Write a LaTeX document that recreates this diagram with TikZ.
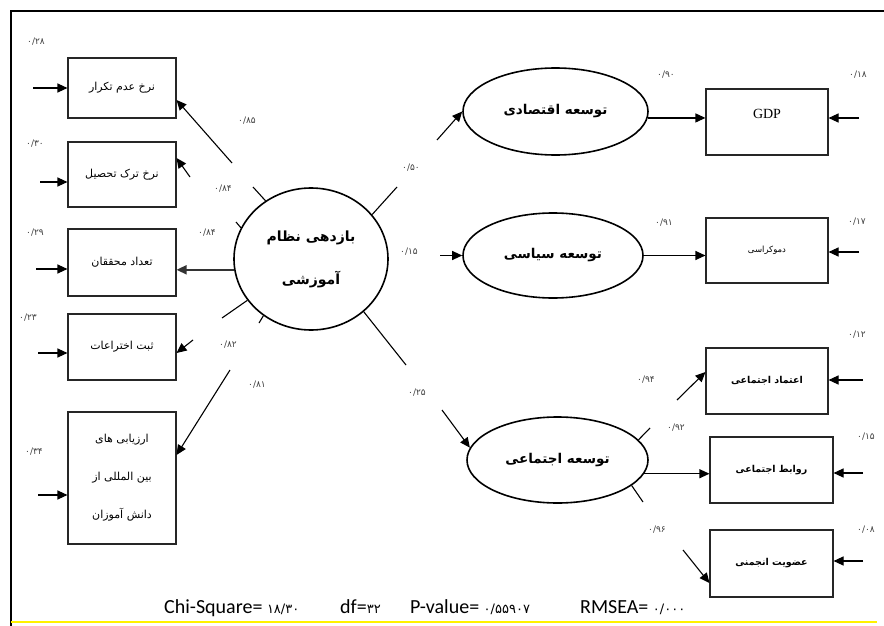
\documentclass[tikz,border=0pt]{standalone}
\usepackage{fontspec}
\setmainfont{Liberation Serif}
\newfontfamily\fa[Script=Arabic]{DejaVu Sans}
\newfontfamily\calfont{Carlito}
\TeXXeTstate=1
\usetikzlibrary{arrows.meta,shapes.geometric}
\begin{document}
\begin{tikzpicture}[x=1pt,y=-1pt,
  obs/.style={draw=black!85,line width=1.1pt,inner sep=1pt,align=center,font=\fa\fontsize{11}{13}\selectfont},
  obsr/.style={obs,font=\fa\fontsize{8.5}{10}\selectfont},
  obsb/.style={obs,font=\fa\bfseries\fontsize{9.5}{11}\selectfont},
  lat/.style={draw,ellipse,line width=1.6pt,inner sep=0pt,align=center,font=\fa\bfseries\fontsize{13.5}{15}\selectfont},
  conn/.style={line width=1.1pt},
  arr/.style={conn,-{Triangle[length=10pt,width=9pt]}},
  lab/.style={inner sep=0pt,text=black!75,font=\fa\fontsize{9}{10}\selectfont},
  bt/.style={inner sep=0pt,anchor=base west,font=\calfont\fontsize{20}{22}\selectfont},
  btd/.style={font=\fa\fontsize{14}{16}\selectfont}]
\useasboundingbox (0,0) rectangle (884,626);
% frame
\draw[line width=2pt] (884,11) -- (11,11) -- (11,626);
\draw[yellow,line width=1.5pt] (11,622) -- (877,622);

% observed indicators (left)
\node[obs,minimum width=108pt,minimum height=60pt] (b1) at (122,88) {\beginR نرخ عدم تکرار\endR};
\node[obs,minimum width=108pt,minimum height=65pt] (b2) at (122,174.5) {\beginR نرخ ترک تحصیل\endR};
\node[obs,minimum width=108pt,minimum height=67pt] (b3) at (122,262.5) {\beginR تعداد محققان\endR};
\node[obs,minimum width=108pt,minimum height=66pt] (b4) at (122,347) {\beginR ثبت اختراعات\endR};
\node[obs,minimum width=108pt,minimum height=132pt,font=\fa\fontsize{11}{38}\selectfont] (b5) at (122,478)
  {\beginR ارزیابی های\endR\\\beginR بین المللی از\endR\\\beginR دانش آموزان\endR};

% latent variables
\node[lat,minimum width=154pt,minimum height=142pt,font=\fa\bfseries\fontsize{14}{43}\selectfont] (cen) at (311,259)
  {\beginR بازدهی نظام\endR\\\beginR آموزشی\endR};
\node[lat,minimum width=185pt,minimum height=87pt] (eco) at (555.5,111.5) {\beginR توسعه اقتصادی\endR};
\node[lat,minimum width=180pt,minimum height=85pt] (pol) at (553,255.5) {\beginR توسعه سیاسی\endR};
\node[lat,minimum width=181pt,minimum height=86pt] (soc) at (557.5,460) {\beginR توسعه اجتماعی\endR};

% observed indicators (right)
\node[obs,minimum width=122pt,minimum height=66pt,font=\fontsize{14}{16}\selectfont,text height=10pt,text depth=18pt] (gdp) at (767,122) {GDP};
\node[obsr,minimum width=122pt,minimum height=65pt] (dem) at (767,250.5) {\beginR دموکراسی\endR};
\node[obsb,minimum width=122pt,minimum height=66pt] (trust) at (767,381) {\beginR اعتماد اجتماعی\endR};
\node[obsb,minimum width=123pt,minimum height=66pt] (rel) at (771.5,470) {\beginR روابط اجتماعی\endR};
\node[obsb,minimum width=123pt,minimum height=67pt] (mem) at (771.5,563.5) {\beginR عضویت انجمنی\endR};

% loadings, left
\coordinate (ga1) at (253,187); \coordinate (ga2) at (232,163);
\draw[conn] (cen.128) -- (ga1);
\draw[arr] (ga2) -- ([yshift=-12pt]b1.east);
\coordinate (gb1) at (236,222); \coordinate (gb2) at (190,177);
\draw[conn] (cen.156) -- (gb1);
\draw[arr] (gb2) -- ([yshift=16.5pt]b2.east);
\draw[arr,line width=1.8pt,draw=black!80] (cen.188) -- (cen.188 -| b3.east);
\coordinate (gd1) at (222,318); \coordinate (gd2) at (193,340);
\draw[conn] (cen.213) -- (gd1);
\draw[arr] (gd2) -- ([yshift=-6pt]b4.east);
\coordinate (ge1) at (259,323); \coordinate (ge2) at (230,370);
\draw[conn] (cen.230) -- (ge1);
\draw[arr] (ge2) -- ([yshift=23pt]b5.east);

% structural paths
\coordinate (gf1) at (397,187); \coordinate (gf2) at (437,140);
\draw[conn] (cen.36) -- (gf1);
\draw[arr] (gf2) -- (eco.west);
\coordinate (gg) at (440,255.5);
\draw[arr] (gg) -- (pol.west);
\coordinate (gh1) at (406,365); \coordinate (gh2) at (442,410);
\draw[conn] (cen.-45) -- (gh1);
\draw[arr] (gh2) -- (soc.172);

% loadings, right
\draw[arr] (eco.-4) -- (eco.-4 -| gdp.west);
\draw[arr] (pol.east) -- (pol.east -| dem.west);
\coordinate (gi1) at (650,428); \coordinate (gi2) at (677,400);
\draw[conn] (soc.14) -- (gi1);
\draw[arr] (gi2) -- ([yshift=9pt]trust.west);
\draw[arr] (soc.-9) -- (soc.-9 -| rel.west);
\coordinate (gj1) at (643,502); \coordinate (gj2) at (683,550);
\draw[conn] (soc.-19) -- (gj1);
\draw[arr] (gj2) -- ([yshift=-19.5pt]mem.west);

% error arrows
\coordinate (eL1) at (33,88);  \draw[arr] (eL1) -- (eL1 -| b1.west);
\coordinate (eL2) at (40,182); \draw[arr] (eL2) -- (eL2 -| b2.west);
\coordinate (eL3) at (36,269); \draw[arr] (eL3) -- (eL3 -| b3.west);
\coordinate (eL4) at (38,353); \draw[arr] (eL4) -- (eL4 -| b4.west);
\coordinate (eL5) at (38,495); \draw[arr] (eL5) -- (eL5 -| b5.west);
\coordinate (eR1) at (859,118); \draw[arr] (eR1) -- (eR1 -| gdp.east);
\coordinate (eR2) at (859,252); \draw[arr] (eR2) -- (eR2 -| dem.east);
\coordinate (eR3) at (863,380); \draw[arr] (eR3) -- (eR3 -| trust.east);
\coordinate (eR4) at (863,473); \draw[arr] (eR4) -- (eR4 -| rel.east);
\coordinate (eR5) at (863,561); \draw[arr] (eR5) -- (eR5 -| mem.east);

% numeric labels
\node[lab] (l1) at (36,42) {۰/۲۸};
\node[lab] (l2) at (35,144) {۰/۳۰};
\node[lab] (l3) at (35,233) {۰/۲۹};
\node[lab] (l4) at (28,318) {۰/۲۳};
\node[lab] (l5) at (34,452) {۰/۳۴};
\node[lab] (l6) at (247,121) {۰/۸۵};
\node[lab] (l7) at (223,189) {۰/۸۴};
\node[lab] (l8) at (207,233) {۰/۸۴};
\node[lab] (l9) at (228,345) {۰/۸۲};
\node[lab] (l10) at (257,385) {۰/۸۱};
\node[lab] (l11) at (411,168) {۰/۵۰};
\node[lab] (l12) at (409,252) {۰/۱۵};
\node[lab] (l13) at (417,393) {۰/۲۵};
\node[lab] (l14) at (666,75) {۰/۹۰};
\node[lab] (l15) at (858,75) {۰/۱۸};
\node[lab] (l16) at (664,223) {۰/۹۱};
\node[lab] (l17) at (857,222) {۰/۱۷};
\node[lab] (l18) at (646,380) {۰/۹۴};
\node[lab] (l19) at (857,335) {۰/۱۲};
\node[lab] (l20) at (676,428) {۰/۹۲};
\node[lab] (l21) at (866,437) {۰/۱۵};
\node[lab] (l22) at (657,530) {۰/۹۶};
\node[lab] (l23) at (866,530) {۰/۰۸};

% fit indices
\node[bt] (chi) at (164,613) {Chi-Square= {\fa\fontsize{13}{15}\selectfont ۱۸/۳۰}};
\node[bt] (df) at (340,613) {df={\fa\fontsize{13}{15}\selectfont ۳۲}};
\node[bt] (pv) at (410,613) {P-value= {\fa\fontsize{13}{15}\selectfont ۰/۵۵۹۰۷}};
\node[bt] (rm) at (580,613) {RMSEA= {\fa\fontsize{13}{15}\selectfont ۰/۰۰۰}};
\end{tikzpicture}
\end{document}
